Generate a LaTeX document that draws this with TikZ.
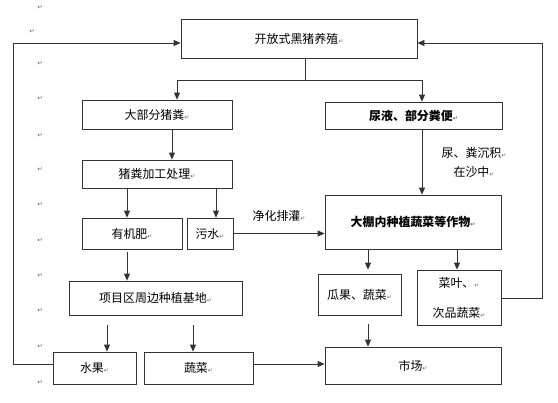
\documentclass[tikz,border=0pt]{standalone}
\usepackage{fontspec}
\setmainfont{Noto Sans CJK SC}
\newfontfamily\djv{DejaVu Sans}
\usetikzlibrary{arrows.meta}
\newcommand{\rt}{{\djv\fontsize{6}{6}\selectfont\color{black!60}↵}}
\begin{document}
\begin{tikzpicture}[x=1bp,y=-1bp,
  box/.style={draw=black!80, line width=0.8bp, inner sep=0pt, align=center,
    font=\fontsize{12}{14}\selectfont},
  ln/.style={draw=black!80, line width=0.8bp},
  arr/.style={ln, -{Triangle[length=7bp,width=6bp]}},
  lbl/.style={inner sep=0pt, font=\fontsize{12}{14}\selectfont},
  mk/.style={inner sep=0pt, font=\djv\fontsize{6.5}{6.5}\selectfont, text=black!60}]
\useasboundingbox (0,0) rectangle (558,402);
% paragraph marks in the margin
\foreach \yy [count=\i] in {7,63,98,135,169,204,240,275,310,346,382}
  \node[mk] (m\i) at (40,\yy) {↵};
\node[mk] (m0) at (32,31) {↵};
% boxes
\node[box, minimum width=236bp, minimum height=39bp] (top) at (299,38.5) {开放式黑猪养殖\rt};
\node[box, minimum width=150bp, minimum height=29bp] (dabu) at (157,114.5) {大部分猪粪\rt};
\node[box, minimum width=177bp, minimum height=27bp, font=\fontsize{12}{14}\selectfont\bfseries] (niao) at (413.5,115.5) {尿液、部分粪便\rt};
\node[box, minimum width=150bp, minimum height=28bp] (jiagong) at (157,174) {猪粪加工处理\rt};
\node[box, minimum width=100bp, minimum height=31bp] (youji) at (132,233.5) {有机肥\rt};
\node[box, minimum width=46bp, minimum height=31bp] (wushui) at (210,233.5) {污水\rt};
\node[box, minimum width=176bp, minimum height=54bp, font=\fontsize{12}{14}\selectfont\bfseries] (dapeng) at (413,222) {大棚内种植蔬菜等作物\rt};
\node[box, minimum width=173bp, minimum height=34bp] (xiangmu) at (155.5,298) {项目区周边种植基地\rt};
\node[box, minimum width=83bp, minimum height=32bp] (shuiguo) at (94.5,368) {水果\rt};
\node[box, minimum width=109bp, minimum height=32bp] (shucai) at (198.5,368) {蔬菜\rt};
\node[box, minimum width=83bp, minimum height=41bp] (guaguo) at (359.5,294.5) {瓜果、蔬菜\rt};
\node[box, minimum width=84bp, minimum height=55bp] (caiye) at (459,297.5) {菜叶、\rt\\[16bp]次品蔬菜\rt};
\node[box, minimum width=176bp, minimum height=37bp] (shichang) at (413,365.5) {市场\rt};
% labels
\node[lbl] (jh) at (279,216) {净化排灌\rt};
\node[lbl, align=center] (fn) at (474,162.5) {尿、粪沉积\rt\\[5bp]在沙中\rt};
% helper coordinates
\coordinate (S) at (305,80);
\coordinate (SL) at (177,80);
\coordinate (SR) at (422,80);
\coordinate (A1) at (172,0);
\coordinate (A2) at (127,0);
\coordinate (A3) at (216,0);
\coordinate (A4) at (107,0);
\coordinate (A5) at (193,0);
\coordinate (A6) at (368,0);
\coordinate (A7) at (457,0);
\coordinate (L1) at (13,364);
\coordinate (L2) at (13,43);
\coordinate (R1) at (542,298);
\coordinate (R2) at (542,43);
% connectors
\draw[ln] (S |- top.south) -- (S);
\draw[ln] (SL) -- (SR);
\draw[arr] (SL) -- (SL |- dabu.north);
\draw[arr] (SR) -- (SR |- niao.north);
\draw[arr] (A1 |- dabu.south) -- (A1 |- jiagong.north);
\draw[arr] (A2 |- jiagong.south) -- (A2 |- youji.north);
\draw[arr] (A3 |- jiagong.south) -- (A3 |- wushui.north);
\draw[arr, shorten <=3bp] (A2 |- youji.south) -- (A2 |- xiangmu.north);
\draw[arr, shorten <=10bp] (A4 |- xiangmu.south) -- (A4 |- shuiguo.north);
\draw[arr, shorten <=10bp] (A5 |- xiangmu.south) -- (A5 |- shucai.north);
\draw[arr] (wushui.east) -- (wushui.east -| dapeng.west);
\draw[arr] (SR |- niao.south) -- (SR |- dapeng.north);
\draw[arr, shorten >=4bp] (A6 |- dapeng.south) -- (A6 |- guaguo.north);
\draw[arr] (A7 |- dapeng.south) -- (A7 |- caiye.north);
\draw[arr, shorten <=9bp] (A6 |- guaguo.south) -- (A6 |- shichang.north);
\draw[arr] (L1 -| shucai.east) -- (L1 -| shichang.west);
\draw[arr] (L1 -| shuiguo.west) -- (L1) -- (L2) -- (L2 -| top.west);
\draw[arr] (R1 -| caiye.east) -- (R1) -- (R2) -- (R2 -| top.east);
\end{tikzpicture}
\end{document}
